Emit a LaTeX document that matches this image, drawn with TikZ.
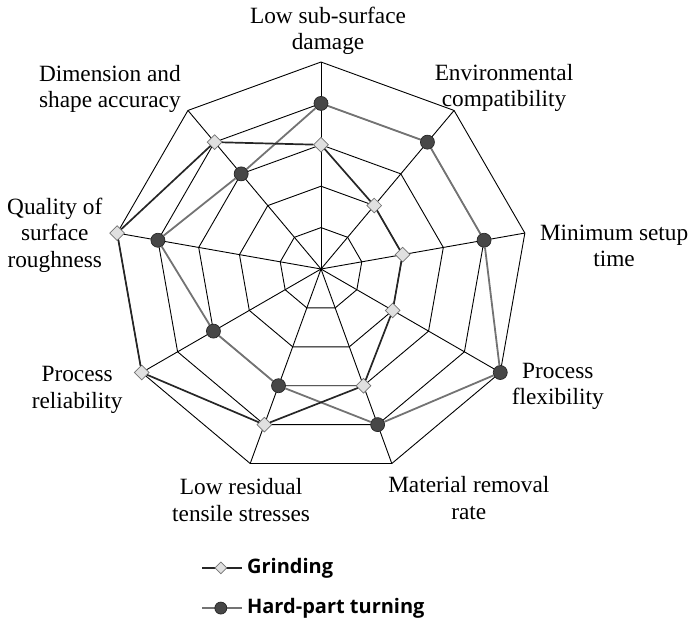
\documentclass[tikz,border=0pt]{standalone}
\usepackage{fontspec}
\setmainfont{Liberation Serif}
\newfontfamily\legendfont{Open Sans}
\usetikzlibrary{shapes.geometric}

\tikzstyle{grid}=[draw=black, line width=0.9pt]
\tikzstyle{grinding}=[draw=black!85, line width=1.7pt]
\tikzstyle{turning}=[draw=black!55, line width=1.8pt]
\tikzstyle{gmark}=[draw=black!55, fill=black!12, diamond, inner sep=0pt, minimum size=15pt, line width=0.7pt]
\tikzstyle{tmark}=[draw=black!85, fill=black!72, circle, inner sep=0pt, minimum size=14pt, line width=0.7pt]
\tikzstyle{axislabel}=[align=center, inner sep=0pt, font=\fontsize{23.3}{26.5}\selectfont]
\tikzstyle{legendlabel}=[anchor=west, inner sep=0pt, font=\legendfont\bfseries\fontsize{20}{24}\selectfont]

\begin{document}
\begin{tikzpicture}[scale=1.455]
\useasboundingbox (-7.754,-8.478) rectangle (8.913,6.498);

\def \n {9}
\def \levels {5}

\coordinate (o) at (0,0);
\foreach \k in {0,...,8}{
  \coordinate (a\k) at ({90-40*\k}:\levels);
}

% web
\foreach \r in {1,...,\levels}{
  \draw[grid] (90:\r) \foreach \k in {1,...,8}{ -- ({90-40*\k}:\r) } -- cycle;
}
\foreach \k in {0,...,8}{
  \draw[grid] (o) -- (a\k);
}

% data points
\foreach \v [count=\i from 0] in {4,4,4,5,4,3,3,4,3}{
  \node[tmark] (t\i) at ({90-40*\i}:\v) {};
}
\foreach \v [count=\i from 0] in {3,2,2,2,3,4,5,5,4}{
  \node[gmark] (g\i) at ({90-40*\i}:\v) {};
}
\foreach \i [evaluate=\i as \j using {int(mod(\i+1,\n))}] in {0,...,8}{
  \draw[turning] (t\i) -- (t\j);
}
\foreach \i [evaluate=\i as \j using {int(mod(\i+1,\n))}] in {0,...,8}{
  \draw[grinding] (g\i) -- (g\j);
}

% axis labels
\node[axislabel] (l0) at (0.17,5.75) {Low sub-surface\\damage};
\node[axislabel] (l1) at (4.42,4.37) {Environmental\\compatibility};
\node[axislabel] (l2) at (7.08,0.56) {Minimum setup\\time};
\node[axislabel] (l3) at (5.72,-2.83) {Process\\flexibility};
\node[axislabel] (l4) at (3.57,-5.53) {Material removal\\rate};
\node[axislabel] (l5) at (-1.93,-5.58) {Low residual\\tensile stresses};
\node[axislabel] (l6) at (-5.89,-2.92) {Process\\reliability};
\node[axislabel] (l7) at (-6.43,0.82) {Quality of\\surface\\roughness};
\node[axislabel] (l8) at (-5.10,4.35) {Dimension and\\shape accuracy};

% legend
\coordinate (gl1) at (-2.874,-7.22);
\coordinate (gl2) at (-1.908,-7.22);
\coordinate (tl1) at (-2.874,-8.19);
\coordinate (tl2) at (-1.908,-8.19);
\draw[grinding, line width=1.3pt] (gl1) -- (gl2);
\draw[turning, line width=1.3pt] (tl1) -- (tl2);
\node[gmark, minimum size=12pt] (gkey) at (-2.42,-7.22) {};
\node[tmark, minimum size=12pt] (tkey) at (-2.42,-8.19) {};
\node[legendlabel] (gtext) at (-1.79,-7.22) {Grinding};
\node[legendlabel] (ttext) at (-1.79,-8.19) {Hard-part turning};

\end{tikzpicture}
\end{document}
